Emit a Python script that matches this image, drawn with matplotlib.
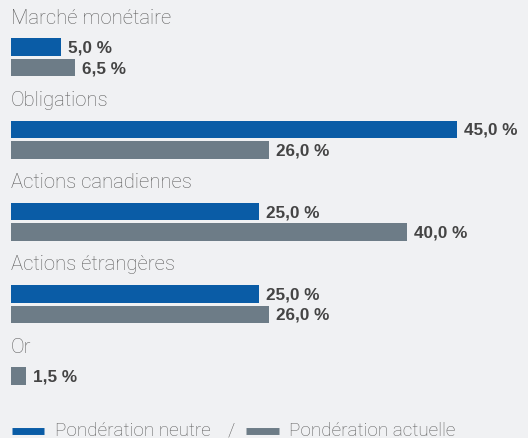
import matplotlib.pyplot as plt

categories = ['Marché monétaire', 'Obligations', 'Actions canadiennes',
              'Actions étrangères', 'Or']
neutre = [5.0, 45.0, 25.0, 25.0, None]
actuelle = [6.5, 26.0, 40.0, 26.0, 1.5]

blue = '#0a5ca6'
gray = '#6d7c87'
bg = '#f0f1f3'

plt.rcParams['font.family'] = ['Roboto', 'DejaVu Sans']

fig = plt.figure(figsize=(5.28, 4.38), dpi=100)
fig.patch.set_facecolor(bg)
ax = fig.add_axes([0, 0, 1, 1])
ax.set_facecolor(bg)
# x in %, y in pixels from top
px = 9.91
ax.set_xlim(-11 / px, (528 - 11) / px)
ax.set_ylim(438, 0)
ax.axis('off')

pitch = 82.3
bh = 17.5
for i, cat in enumerate(categories):
    top = 18 + i * pitch
    ax.text(0, top, cat, fontsize=14.6, fontweight='light',
            color='#5e5e5e', va='center', ha='left')
    rows = []
    if neutre[i] is not None:
        rows.append((neutre[i], blue))
    rows.append((actuelle[i], gray))
    y = top + 29
    for val, col in rows:
        ax.barh(y, val, height=bh, color=col, left=0)
        ax.text(val + 7 / px, y + 1, f'{val:.1f} %'.replace('.', ','),
                fontsize=12.3, fontweight='bold', color='#444444',
                family=['Liberation Sans', 'DejaVu Sans'],
                va='center', ha='left')
        y += bh + 3

# legend
ly = 430.5
ax.plot([1 / px, 33 / px], [ly, ly], color=blue, lw=5, solid_capstyle='butt')
ax.text(44 / px, ly, 'Pondération neutre', fontsize=13.6, fontweight='light',
        color='#5e5e5e', va='center', ha='left')
ax.text(217 / px, ly, '/', fontsize=13.6, fontweight='light',
        color='#5e5e5e', va='center', ha='left')
ax.plot([235 / px, 268 / px], [ly, ly], color=gray, lw=5, solid_capstyle='butt')
ax.text(278 / px, ly, 'Pondération actuelle', fontsize=13.6, fontweight='light',
        color='#5e5e5e', va='center', ha='left')

fig.savefig('out.png', dpi=100, facecolor=bg)
